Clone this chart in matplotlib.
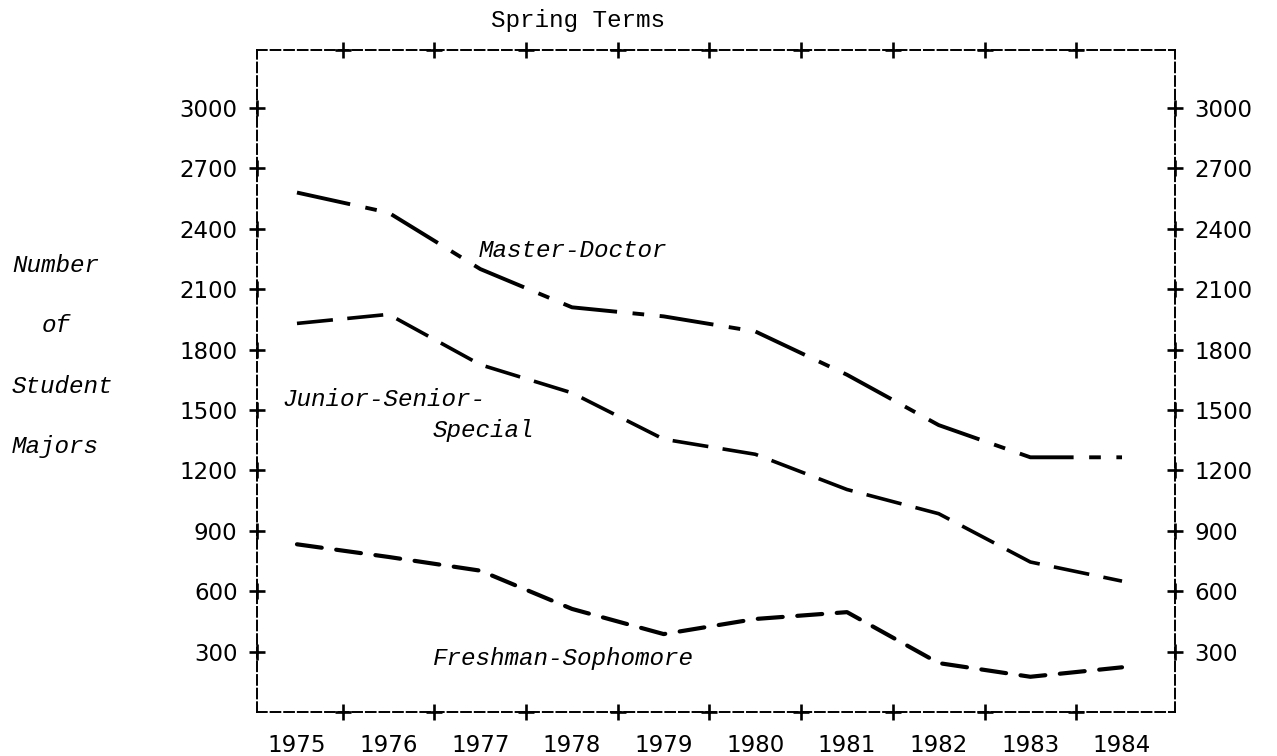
import numpy as np
import matplotlib
matplotlib.use("Agg")
import matplotlib.pyplot as plt

years = [1975, 1976, 1977, 1978, 1979, 1980, 1981, 1982, 1983, 1984]
master_doctor = [2580, 2480, 2200, 2010, 1965, 1890, 1675, 1425, 1265, 1265]
junior_senior = [1930, 1975, 1725, 1585, 1355, 1280, 1105, 985, 745, 650]
freshman_soph = [833, 770, 702, 512, 387, 462, 496, 243, 175, 222]
y_ticks = [300, 600, 900, 1200, 1500, 1800, 2100, 2400, 2700, 3000]
y_label_words = ["Number", "of", "Student", "Majors"]

W, H = 1277, 756
fig = plt.figure(figsize=(W / 100, H / 100), dpi=100)
ax = fig.add_axes([257 / W, 1 - 712 / H, (1175 - 257) / W, (712 - 50) / H])

mono = "Liberation Mono"
num_font = "DejaVu Sans"

ax.plot(years, master_doctor, color="k", lw=2.8, dashes=(14, 4, 3, 4),
        dash_capstyle="butt")
ax.plot(years, junior_senior, color="k", lw=2.6, dashes=(10, 4),
        dash_capstyle="butt")
ax.plot(years, freshman_soph, color="k", lw=3.0, dashes=(6, 3.5),
        dash_capstyle="round")

ax.set_xlim(1974.564, 1984.578)
ax.set_ylim(0, 3288)

# dashed frame
for s in ax.spines.values():
    s.set_linestyle((0, (5, 2)))
    s.set_linewidth(1.4)

# tick labels
ax.set_xticks(years)
ax.set_xticklabels([str(y) for y in years], fontsize=16.5, family=num_font)
ax.set_yticks(y_ticks)
ax.set_yticklabels([str(v) for v in y_ticks], fontsize=16.5, family=num_font)
ax.tick_params(axis="both", length=0)
ax.tick_params(axis="x", pad=16)
ax.tick_params(axis="y", pad=14, labelright=True)

# "+" tick marks along the frame
half_years = np.array(years[:-1]) + 0.5
x0, x1 = ax.get_xlim()
y0, y1 = ax.get_ylim()
plus = dict(marker="+", color="k", ms=11, mew=1.9, ls="none", clip_on=False)
ax.plot(half_years, np.full(len(half_years), y0), **plus)
ax.plot(half_years, np.full(len(half_years), y1), **plus)
ax.plot(np.full(len(y_ticks), x0), y_ticks, **plus)
ax.plot(np.full(len(y_ticks), x1), y_ticks, **plus)

# series labels
lab = dict(family=mono, style="italic", fontsize=17.5, color="k")
ax.text(1978.01, 2290, "Master-Doctor", ha="center", va="center", **lab)
ax.text(1974.84, 1550, "Junior-Senior-", ha="left", va="center", **lab)
ax.text(1977.03, 1400, "Special", ha="center", va="center", **lab)
ax.text(1977.91, 268, "Freshman-Sophomore", ha="center", va="center", **lab)

# title and y label words
fig.text(578 / W, 1 - 20 / H, "Spring Terms", family=mono, fontsize=17.5,
         ha="center", va="center")
for word, (xp, yp) in zip(y_label_words, [(12, 266), (42, 326), (12, 387), (12, 446)]):
    fig.text(xp / W, 1 - yp / H, word, ha="left", va="center", **lab)

fig.savefig("out.png", dpi=100)
